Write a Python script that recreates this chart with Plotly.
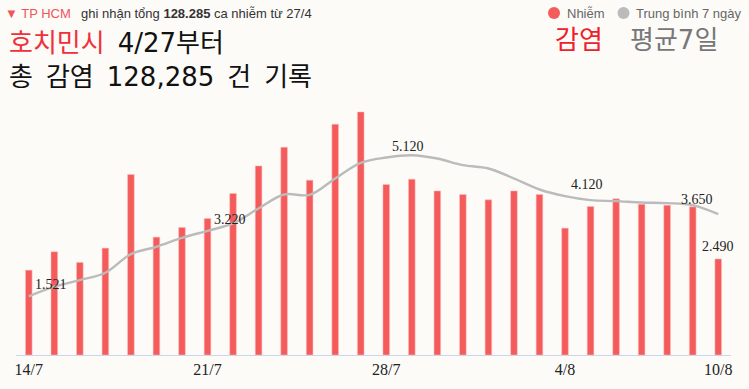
import plotly.graph_objects as go

dates = ["14/7","15/7","16/7","17/7","18/7","19/7","20/7","21/7","22/7","23/7","24/7","25/7","26/7","27/7",
         "28/7","29/7","30/7","31/7","1/8","2/8","3/8","4/8","5/8","6/8","7/8","8/8","9/8","10/8"]
cases = [2200,2676,2400,2771,4680,3056,3307,3540,4188,4903,5387,4533,5983,6301,
         4421,4558,4255,4162,4022,4255,4162,3289,3851,4048,3911,3885,3841,2490]
avg7 = [1521,1770,1943,2132,2616,2806,3038,3220,3411,3800,4162,4152,4576,4981,
        5120,5180,5094,4921,4835,4576,4291,4120,4015,3989,3954,3937,3885,3650]
tick_idx = [0,7,14,21,27]
tick_labels = ["14/7","21/7","28/7","4/8","10/8"]
avg_label_idx = [0,7,14,21]
avg_labels = ["1.521","3.220","5.120","4.120"]

x = list(range(len(dates)))
RED = "#f45b5b"
GRAY = "#bbbbbb"
SERIF = "Liberation Serif, DejaVu Serif, serif"
SANS = "Liberation Sans, Arial, sans-serif"
KR = "DejaVu Sans, Noto Sans CJK KR, sans-serif"
SP = "\u2002"

W, H = 749, 389
ML, MR, MT, MB = 16, 18, 85, 34
PW, PH = W - ML - MR, H - MT - MB


def px(xp):
    return (xp - ML) / PW


def py(yp):
    return (H - MB - yp) / PH


fig = go.Figure()
fig.add_trace(go.Bar(x=x, y=cases, width=0.26,
                     marker=dict(color=RED, line=dict(color="rgba(255,190,190,0.9)", width=0.6)),
                     hoverinfo="y", showlegend=False))
fig.add_trace(go.Scatter(x=x, y=avg7, mode="lines",
                         line=dict(color=GRAY, width=2.4, shape="spline", smoothing=1.0),
                         hoverinfo="y", showlegend=False))

ann = []
for i, t in zip(avg_label_idx, avg_labels):
    ann.append(dict(x=i, y=avg7[i], text=t, showarrow=False, xanchor="left", yanchor="bottom", xshift=4, yshift=2,
                    font=dict(family=SERIF, size=14, color="#222")))
ann.append(dict(x=27, y=avg7[27], text="3.650", showarrow=False, xanchor="right", yanchor="bottom", xshift=-3, yshift=5,
                font=dict(family=SERIF, size=14, color="#222")))
ann.append(dict(x=27, y=cases[27], text="2.490", showarrow=False, xanchor="center", yanchor="bottom", yshift=3,
                font=dict(family=SERIF, size=14, color="#222")))


def top(px_x, px_y, text, size, color, family=SANS, anchor="left"):
    ann.append(dict(xref="paper", yref="paper", x=px(px_x), y=py(px_y),
                    text=text, showarrow=False, xanchor=anchor, yanchor="middle",
                    font=dict(family=family, size=size, color=color)))


top(3, 13, "▼ TP HCM", 13, "#f0555a")
top(79, 13, "ghi nhận tổng <b>128.285</b> ca nhiễm từ 27/4", 13, "#333")
top(7, 43, "<span style='color:#f0303a'>호치민시</span>" + SP + "4/27부터", 26, "#111", KR)
top(7, 77, SP.join(["총", "감염", "128,285", "건", "기록"]), 26, "#111", KR)
top(565, 13, "Nhiễm", 13, "#666")
top(634, 13, "Trung bình 7 ngày", 13, "#666")
top(553, 40, "감염", 26, "#f0202a", KR)
top(628, 40, "평균7일", 26, "#777", KR)

shapes = []
for cx, col in [(554, RED), (623.5, GRAY)]:
    shapes.append(dict(type="circle", xref="paper", yref="paper",
                       x0=px(cx - 6), x1=px(cx + 6), y0=py(13 + 6), y1=py(13 - 6),
                       fillcolor=col, line=dict(width=0)))

fig.update_layout(
    width=W, height=H,
    margin=dict(l=ML, r=MR, t=MT, b=MB),
    paper_bgcolor="#fcfbf8", plot_bgcolor="#fcfbf8",
    xaxis=dict(range=[-0.5, 27.5], tickmode="array", tickvals=tick_idx, ticktext=tick_labels,
               showgrid=False, zeroline=False, showline=True, linecolor="#ccd6eb", linewidth=1,
               ticks="", tickfont=dict(family=SERIF, size=16, color="#222")),
    yaxis=dict(range=[0, 7000], showgrid=False, zeroline=False, showticklabels=False, showline=False),
    annotations=ann,
    shapes=shapes,
)

fig.write_html("out.html", config={"displayModeBar": False},
               post_script="document.body.style.margin='0';document.body.style.overflow='hidden';")
